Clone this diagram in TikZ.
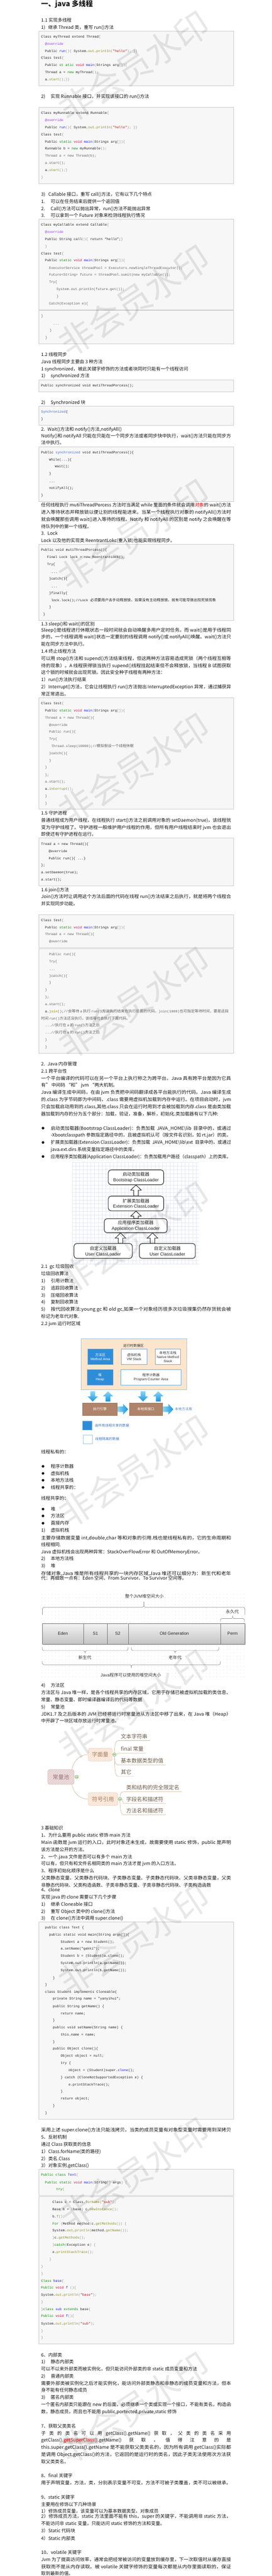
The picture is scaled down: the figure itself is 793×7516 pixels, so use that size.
\documentclass[tikz,border=0pt]{standalone}
\usepackage{fontspec}
\usepackage{graphicx}
\setmainfont{Noto Sans CJK SC}
\setmonofont{Liberation Mono}
\newfontfamily\lsans{Liberation Sans}
\usetikzlibrary{calc,patterns.meta}
\setlength{\fboxsep}{0.8pt}
\definecolor{codebg}{RGB}{247,247,247}
\definecolor{codeborder}{RGB}{204,204,204}
\definecolor{codeblack}{RGB}{34,34,34}
\definecolor{kpur}{RGB}{155,45,245}
\definecolor{kblu}{RGB}{25,25,230}
\definecolor{kgrn}{RGB}{0,140,0}
\definecolor{kred}{RGB}{205,0,55}
\definecolor{kol}{RGB}{140,140,20}
\definecolor{kstr}{RGB}{175,20,20}
\definecolor{kgray}{RGB}{95,95,95}
\definecolor{kbr}{RGB}{140,140,140}
\definecolor{ksyn}{RGB}{55,110,205}
\definecolor{bodyc}{RGB}{20,20,20}
\definecolor{gridc}{RGB}{230,232,244}
\definecolor{clline}{RGB}{45,45,45}
\definecolor{peach}{RGB}{252,229,205}
\definecolor{rtborder}{RGB}{165,200,230}
\definecolor{jblue}{RGB}{46,141,216}
\definecolor{jblueb}{RGB}{100,165,225}
\definecolor{jwb}{RGB}{115,170,220}
\definecolor{jtext}{RGB}{45,45,45}
\definecolor{jbrown}{RGB}{176,132,106}
\definecolor{jbrownb}{RGB}{150,110,85}
\definecolor{arrl}{RGB}{140,215,248}
\definecolor{arrd}{RGB}{25,150,222}
\definecolor{libtxt}{RGB}{80,130,190}
\definecolor{legtxt}{RGB}{60,115,185}
\definecolor{dotc}{RGB}{200,200,200}
\definecolor{bracec}{RGB}{150,150,150}
\definecolor{mmlinec}{RGB}{212,184,152}
\definecolor{mmrootf}{RGB}{236,218,218}
\definecolor{mmrootd}{RGB}{200,160,160}
\definecolor{mmroott}{RGB}{150,118,118}
\definecolor{mmrooth}{RGB}{218,190,190}
\definecolor{mmsubf}{RGB}{252,236,224}
\definecolor{mmsubd}{RGB}{226,186,155}
\definecolor{mmsubt}{RGB}{165,125,95}
\definecolor{mmsubh}{RGB}{240,210,188}
\definecolor{mmleaft}{RGB}{105,88,72}
\definecolor{mmgreen}{RGB}{95,165,85}
\definecolor{mmgreenf}{RGB}{230,245,225}
\definecolor{hlgray}{RGB}{215,215,215}
\definecolor{cellt}{RGB}{243,243,243}
\definecolor{cellb}{RGB}{196,196,196}
\definecolor{celld}{RGB}{120,120,120}
\definecolor{shadowc}{RGB}{218,218,218}
\newcommand\Kp[1]{\textcolor{kpur}{#1}}
\newcommand\Kb[1]{\textcolor{kblu}{#1}}
\newcommand\Kg[1]{\textcolor{kgrn}{#1}}
\newcommand\Kr[1]{\textcolor{kred}{#1}}
\newcommand\Ko[1]{\textcolor{kol}{#1}}
\newcommand\Ks[1]{\textcolor{kstr}{#1}}
\newcommand\Kl[1]{\textcolor{kbr}{#1}}
\newcommand\Kd[1]{\textcolor{kgray}{#1}}
\newcommand\Ky[1]{\textcolor{ksyn}{#1}}
\newcommand\zc[1]{{\rmfamily\fontsize{10.8}{12}\selectfont #1}}
\newcounter{tn}
\newcommand\TXT[3]{\stepcounter{tn}\node[bt] (t\thetn) at (#1,#2) {#3};}
\newcommand\FUL[2]{\stepcounter{tn}\node[bt] (t\thetn) at (120,#1) {\resizebox{554pt}{\height}{#2}};}
\newcommand\FUB[2]{\stepcounter{tn}\node[bt] (t\thetn) at (148,#1) {\resizebox{526pt}{\height}{#2}};}
\newcommand\NUM[4]{\TXT{120}{#2}{\makebox[#3pt][l]{#1}#4}}
\newcommand\BUL[2]{\fill[bodyc] (125.5,#1) circle (3.8); \TXT{148}{#1}{#2}}
\newcommand\BULF[2]{\fill[bodyc] (125.5,#1) circle (3.8); \FUB{#1}{#2}}
\newcommand\COD[3]{\stepcounter{tn}\node[ct] (t\thetn) at (#1,#2) {#3};}
\newcommand\CBOX[2]{\path[codebox] (113,#1) rectangle (682,#2);}
\newcommand\hollowup[2]{\draw[harr] let \p1=(#1), \p2=(#2) in (\x2-6.5pt,\y1) -- (\x2-6.5pt,\y2-15pt) -- (\x2-15.5pt,\y2-15pt) -- (\x2,\y2) -- (\x2+15.5pt,\y2-15pt) -- (\x2+6.5pt,\y2-15pt) -- (\x2+6.5pt,\y1) -- cycle;}
\newcommand\bluedown[3]{\shade[bluearr] let \p1=(#2), \p2=(#3) in (#1-7pt,\y1) -- (#1+7pt,\y1) -- (#1+7pt,\y2+15pt) -- (#1+15pt,\y2+15pt) -- (#1,\y2) -- (#1-15pt,\y2+15pt) -- (#1-7pt,\y2+15pt) -- cycle;}
\newcommand\blueup[3]{\shade[bluearr] let \p1=(#2), \p2=(#3) in (#1-7pt,\y1) -- (#1+7pt,\y1) -- (#1+7pt,\y2-15pt) -- (#1+15pt,\y2-15pt) -- (#1,\y2) -- (#1-15pt,\y2-15pt) -- (#1-7pt,\y2-15pt) -- cycle;}
\newcommand\blueright[2]{\shade[bluearrh] let \p1=(#1), \p2=(#2) in (\x1,\y1+8pt) -- (\x2-15pt,\y1+8pt) -- (\x2-15pt,\y1+16pt) -- (\x2,\y1) -- (\x2-15pt,\y1-16pt) -- (\x2-15pt,\y1-8pt) -- (\x1,\y1-8pt) -- cycle;}
\newcommand\MINUS[1]{\draw[mmgreen, line width=0.9pt] ($(#1.west)+(2.2,0)$) -- ($(#1.east)+(-2.2,0)$);}
\tikzset{
  bt/.style={anchor=west, inner sep=0pt, font=\fontsize{13.4}{16}\selectfont, text height=11.8pt, text depth=1.6pt, text=bodyc},
  ct/.style={anchor=west, inner sep=0pt, font=\ttfamily\fontsize{10}{12}\selectfont, text height=6.2pt, text depth=0pt, text=codeblack},
  codebox/.style={fill=codebg, draw=codeborder, line width=1pt},
  clbox/.style={draw=clline, line width=1.6pt, rounded corners=8pt, fill=white, inner sep=0pt, align=center, font=\fontsize{13}{16}\selectfont, text={rgb,255:red,30;green,30;blue,30}},
  harr/.style={draw=clline, line width=1.5pt, fill=white, line join=miter},
  jbox/.style={inner sep=0pt, align=center, font=\fontsize{10}{12.3}\selectfont, text=jtext, line width=0.8pt},
  jtxt/.style={inner sep=0pt, font=\fontsize{10}{12}\selectfont, text=jtext},
  bluearr/.style={top color=arrl, bottom color=arrd},
  bluearrh/.style={left color=arrl, right color=arrd},
  hcell/.style={draw=celld, top color=cellt, bottom color=cellb, inner sep=0pt, minimum height=60.3pt, font=\lsans\fontsize{12.5}{14}\selectfont, text={rgb,255:red,40;green,40;blue,40}},
  hlab/.style={inner sep=0pt, font=\fontsize{12.5}{14}\selectfont, text={rgb,255:red,50;green,50;blue,50}},
  hbrace/.style={draw=bracec, line width=1.1pt, rounded corners=5pt},
  mmroot/.style={draw=mmrootd, fill=mmrootf, rounded corners=6pt, inner sep=0pt, font=\fontsize{16}{18}\selectfont, text=mmroott, postaction={pattern={Lines[angle=45,distance=5pt,line width=0.5pt]}, pattern color=mmrooth}},
  mmsub/.style={draw=mmsubd, fill=mmsubf, rounded corners=6pt, inner sep=0pt, font=\fontsize{16}{18}\selectfont, text=mmsubt, postaction={pattern={Lines[angle=45,distance=5pt,line width=0.5pt]}, pattern color=mmsubh}},
  mmleaf/.style={anchor=south west, inner xsep=7pt, inner ysep=0pt, text height=13.6pt, text depth=6.1pt, font=\fontsize{15.5}{18}\selectfont, text=mmleaft},
  mmconn/.style={draw=mmlinec, line width=1pt},
  mminus/.style={circle, draw=mmgreen, fill=mmgreenf, line width=0.9pt, minimum size=10pt, inner sep=0pt},
  wm/.style={rotate=33, inner sep=0pt, font=\fontsize{100}{100}\selectfont, text=black, text opacity=0.09}
}
\begin{document}
\begin{tikzpicture}[x=1pt,y=-1pt]
\useasboundingbox (0,0) rectangle (793,7516);
\fill[white] (0,0) rectangle (793,7516);
% ---------------- section 1
\node[anchor=west, inner sep=0pt, font=\fontsize{20.5}{24}\selectfont\bfseries, text height=18pt, text depth=2.5pt, text=bodyc] (title) at (120,11) {一、java 多线程};
\TXT{120}{59.5}{1.1 实现多线程}
\NUM{1)}{79.5}{20.6}{继承 Thread 类，重写 run()方法}
\CBOX{91}{250}
\COD{120}{107.3}{Class myThread extend Thread\Kl{\{}}
\COD{131}{128.6}{\Kp{@override}}
\COD{131}{149.5}{Public \Kb{run}\Kl{()\{} System.\Ko{out}.\Ko{printIn}\Kl{(}\Ks{"hello"}\Kl{);} \Kl{\}\}}}
\COD{120}{169.5}{Class test\Kl{\{}}
\COD{131}{190.4}{Public \Kg{st atic} \Kr{void} \Kb{main}\Kl{(}Strings arg\Kl{[])\{}}
\COD{131}{211.3}{Thread a = \Kg{new} myThread\Kl{();}}
\COD{131}{232.2}{a.\Ko{start}\Kl{();\}\}}}
\NUM{2)}{281}{27.7}{实现 Runnable 接口，并实现该接口的 run()方法}
\CBOX{313.4}{535.2}
\COD{120}{330.3}{Class myRunnable extend Runnable\Kl{\{}}
\COD{131}{351.5}{\Kp{@override}}
\COD{131}{371.6}{Public \Kb{run}\Kl{()\{} System.\Ko{out}.\Ko{printIn}\Kl{(}\Ks{"hello"}\Kl{);} \Kl{\}\}}}
\COD{120}{392.5}{Class test\Kl{\{}}
\COD{131}{413.4}{Public \Kg{static} \Kr{void} \Kb{main}\Kl{(}Strings arg\Kl{[])\{}}
\COD{131}{434.3}{Runnable b = \Kg{new} myRunnable\Kl{();}}
\COD{131}{455.2}{\Kd{Thread a = new Thread(b);}}
\COD{131}{475.7}{\Kd{a.start();}}
\COD{131}{496.6}{a.\Ko{start}\Kl{();\}}}
\COD{120}{518.3}{\Kl{\}}}
\NUM{3)}{566.5}{21}{Callable 接口，重写 call()方法，它有以下几个特点}
\NUM{1.}{587.4}{27.7}{可以在任务结束后提供一个返回值}
\NUM{2.}{608.7}{27.7}{Call()方法可以抛出异常，run()方法不能抛出异常}
\NUM{3.}{629}{27.7}{可以拿到一个 Future 对象来检测线程执行情况}
\CBOX{639.6}{903.3}
\CBOX{905.7}{1003.7}
\COD{120}{656.3}{Class myCallable extend Callable\Kl{\{}}
\COD{131}{677.1}{\Kp{@override}}
\COD{131}{698.4}{Public String call\Kl{()\{} return “hello”;\Kl{\}}}
\COD{131}{719.2}{\Kl{\}}}
\COD{120}{740.4}{Class test\Kl{\{}}
\COD{131}{760.4}{Public \Kg{static} \Kr{void} \Kb{main}\Kl{(}Strings arg\Kl{[])\{}}
\COD{143}{781.6}{\Kd{ExecutorService threadPool = Executors.newSingleThreadExecutor();}}
\COD{143}{802.4}{\Kd{Future<String> future = threadPool.sumit(new myCallable());}}
\COD{143}{823.3}{\Kd{Try\{}}
\COD{165}{844.5}{\Kd{System.out.printIn(future.get());}}
\COD{165}{864.9}{\Kd{\}}}
\COD{143}{885.3}{\Kd{Catch(Exception e)\{}}
\COD{120}{922.4}{\Kd{\}}}
\COD{155}{945.3}{\Kd{...}}
\COD{145}{964.9}{\Kd{\}}}
\COD{132}{985.3}{\Kd{\}}}
\TXT{120}{1034.3}{1.2 线程同步}
\TXT{120}{1055.5}{Java 线程同步主要由 3 种方法}
\TXT{120}{1076.3}{1 synchronized，被此关键字修饰的方法或者块同时只能有一个线程访问}
\NUM{1)}{1096.7}{27.7}{synchronized 方法}
\CBOX{1107.8}{1142.4}
\COD{120}{1124.5}{Public synchronized void mutiThreadPorcess();}
\NUM{2)}{1173.9}{27.7}{Synchronized 块}
\CBOX{1184.9}{1240.4}
\COD{120}{1201.2}{\Ky{Synchronized}\{}
\COD{120}{1222.4}{\}}
\NUM{2.}{1251.8}{18.6}{Wait()方法和 notify()方法,notifyAll()}
\FUL{1271.2}{Notify()和 notifyAll 只能在只能在一个同步方法或者同步快中执行，wait()方法只能在同步方}
\TXT{120}{1292}{法中执行。}
\CBOX{1303.5}{1463.1}
\COD{120}{1320.2}{Public \Ky{synchronized} void mutiThreadPorcess()\{}
\COD{143}{1341.4}{While(...)\{}
\COD{160}{1361.4}{Wait();}
\COD{143}{1382.7}{\}}
\COD{143}{1405.1}{...}
\COD{143}{1424.3}{notifyAll();}
\COD{120}{1445.5}{\}}
\FUL{1473.7}{任何线程执行 mutiThreadPorcess 方法时当满足 while 里面的条件就会调用\textcolor{red}{对象}的 wait()方法}
\FUL{1494.5}{进入等待状态并释放锁以便让别的线程能进来。当某一个线程执行对象的 notifyAll()方法时}
\FUL{1515.3}{就会唤醒那些调用 wait()进入等待的线程。Notify 和 notifyAll 的区别是 notify 之会唤醒在等}
\TXT{120}{1536.5}{待队列中的第一个线程。}
\NUM{3.}{1556.5}{18.6}{Lock}
\TXT{120}{1577.3}{Lock 以及他的实现类 ReentrantLokc(重入锁)也能实现线程同步。}
\CBOX{1588.4}{1810}
\COD{120}{1605.1}{Public void mutiThreadPorcess()\{}
\COD{137}{1625.9}{Final Lock lock = new ReentrantLock();}
\COD{137}{1646.3}{Try\{}
\COD{150}{1669.2}{...}
\COD{143}{1688.4}{\}catch()\{}
\COD{150}{1711.2}{...}
\COD{143}{1730.4}{\}finally\{}
\COD{149}{1751.2}{lock.lock();//Lock \zc{必须要用户去手动释放锁，如果没有主动释放锁，就有可能导致出现死锁现象}}
\COD{143}{1771.6}{\}}
\COD{126}{1792.9}{\}}
\TXT{120}{1820.6}{1.3 sleep()和 wait()的区别}
\FUL{1837.8}{Sleep()是线程进行休眠状态一段时间就会自动唤醒多用户定时任务。而 wait()是用于线程同}
\FUL{1858.6}{步的，一个线程调用 wait()状态一定要别的线程调用 notify()或 notifyAll()唤醒。wait()方法只}
\TXT{120}{1878.6}{能在同步方法中执行。}
\TXT{120}{1900.4}{1.4 终止线程方法}
\FUL{1921.2}{可以用 stop()方法和 supend()方法结束线程，但这两种方法容易造成死锁（两个线程互相等}
\FUL{1941.6}{待的现象）。A 线程获得锁当执行 supend()线程挂起结束但不会释放锁，当线程 B 试图获取}
\TXT{120}{1962.4}{这个锁的时候就会出现死锁。因此安全种子线程有两种方法：}
\TXT{120}{1983.3}{1）run()方法执行结束}
\FUL{2004.1}{2）Interrupt()方法，它会让线程执行 run()方法抛出 InterruptedException 异常，通过捕获异}
\TXT{120}{2024.5}{常正常退出。}
\CBOX{2035.5}{2361.2}
\COD{120}{2052.2}{Class test\Kl{\{}}
\COD{131}{2073.5}{Public \Kg{static} \Kr{void} \Kb{main}\Kl{(}Strings arg\Kl{[])\{}}
\COD{131}{2094.3}{\Kd{Thread a = new Thread()\{}}
\COD{143}{2115.5}{\Kd{@override}}
\COD{143}{2135.5}{\Kd{Public run()\{}}
\COD{143}{2156.7}{\Kd{Try\{}}
\COD{150}{2177.1}{\Kd{Thread.sleep(10000);//\zc{模拟假设一个线程休眠}}}
\COD{143}{2198.4}{\Kd{\}catch()\{}}
\COD{143}{2219.6}{\Kd{\}}}
\COD{131}{2239.6}{\Kd{\}}}
\COD{131}{2260.8}{\Kd{\};}}
\COD{131}{2281.2}{\Kd{a.start();}}
\COD{131}{2302.4}{a.\Ko{interrupt}\Kl{();}}
\COD{131}{2323.7}{\Kd{\}}}
\COD{131}{2343.7}{\Kd{\}}}
\TXT{120}{2372.2}{1.5 守护进程}
\FUL{2393.1}{普通线程成为用户线程，在线程执行 start()方法之前调用对象的 setDaemon(true)，该线程就}
\FUL{2413.9}{变为守护线程了。守护进程一般维护用户线程的作用，但所有用户线程结束时 jvm 也会退出}
\TXT{120}{2433.9}{即使还有守护进程在运行。}
\CBOX{2445.3}{2584.3}
\COD{120}{2462.4}{Tread a = new Thread()\{}
\COD{142}{2483.3}{@override}
\COD{142}{2504.5}{Public run()\{ ...\}}
\COD{120}{2524.9}{\};}
\COD{120}{2545.4}{a.setDaemon(true);}
\COD{120}{2566.2}{a.start();}
\TXT{120}{2595.6}{1.6 join()方法}
\FUL{2615.7}{Join()方法时让调用这个方法后面的代码在线程 run()方法结束之后执行，就是将两个线程合}
\TXT{120}{2636.2}{并实现同步功能。}
\CBOX{2668.7}{2765.1}
\CBOX{2767.5}{3073.3}
\COD{120}{2685.6}{Class test\Kl{\{}}
\COD{131}{2706.5}{Public \Kg{static} \Kr{void} \Kb{main}\Kl{(}Strings arg\Kl{[])\{}}
\COD{131}{2726.6}{\Kd{Thread a = new Thread()\{}}
\COD{143}{2747.4}{\Kd{@override}}
\COD{143}{2784.4}{\Kd{Public run()\{}}
\COD{143}{2805.7}{\Kd{Try\{}}
\COD{143}{2827.8}{\Kd{...}}
\COD{143}{2847.5}{\Kd{\}catch()\{}}
\COD{143}{2867.6}{\Kd{\}}}
\COD{131}{2888.5}{\Kd{\}}}
\COD{131}{2909.8}{\Kd{\};}}
\COD{131}{2930.3}{\Kd{a.start();}}
\COD{131}{2951.2}{\resizebox{536pt}{\height}{a.\Ko{join}\Kd{();//\zc{会等待 }a\zc{ 执行 }run()\zc{方法执行结束在执行后面的代码，}join(1000)\zc{也可指定等待时间，要是这段}}}}
\COD{120}{2972.0}{\Kd{\zc{时间 }run()\zc{方法还没执行，该线程也会执行下面代码。}}}
\COD{131}{2992.1}{\Kd{...//\zc{执行在 }a\zc{ 的 }run()\zc{方法之后}}}
\COD{131}{3013.0}{\Kd{...//\zc{执行在 }a\zc{ 的 }run()\zc{方法之后}}}
\COD{131}{3034.3}{\Kd{\}}}
\COD{131}{3055.2}{\Kd{\}}}
% ---------------- section 2
\NUM{2.}{3104.6}{18.6}{Java 内存管理}
\TXT{120}{3124.7}{2.1 跨平台性}
\FUL{3146.1}{一个平台编译的代码可以在另一个平台上执行称之为跨平台。Java 具有跨平台是因为它具}
\TXT{120}{3166.6}{有” 中间码 “和” jvm “两大机制。}
\FUL{3187.5}{Java 编译生成中间码，在由 jvm 负责把中间码翻译成各平台能执行的代码。Java 编译生成}
\FUL{3208.3}{的.class 为字节码即为中间码，.class 需要用虚拟机加载到内存中运行。在项目启动时，jvm}
\FUL{3229.2}{只会加载启动用到的.class,其他.class 只会在运行时用到才会被加载到内存.class 是由类加载}
\TXT{120}{3249.7}{器加载到内存的分为五个部分：加载，验证，准备，解析，初始化.类加载器有以下几种:}
\BULF{3291.5}{启动类加载器(Bootstrap ClassLoader)：负责加载 \ JAVA\_HOME\textbackslash lib \ 目录中的，或通过}
\FUB{3312.4}{-Xbootclasspath 参数指定路径中的，且被虚拟机认可（按文件名识别，如 rt.jar）的类。}
\BULF{3333.3}{扩展类加载器(Extension ClassLoader)：负责加载 \ JAVA\_HOME\textbackslash lib\textbackslash ext \ 目录中的，或通过}
\TXT{148}{3354.2}{java.ext.dirs 系统变量指定路径中的类库。}
\BULF{3374.3}{应用程序类加载器(Application ClassLoader)：负责加载用户路径（classpath）上的类库。}
% class loader diagram
\foreach \gx in {210,221,...,580} {\draw[gridc, line width=0.5pt] (\gx,3391) -- (\gx,3688);}
\foreach \gy in {3391,3402,...,3688} {\draw[gridc, line width=0.5pt] (210,\gy) -- (580,\gy);}
\node[clbox, minimum width=161.7pt, minimum height=43.4pt] (cl1) at (396.8,3435) {启动类加载器\\{\lsans Bootstrap ClassLoader}};
\node[clbox, minimum width=161.7pt, minimum height=42.7pt] (cl2) at (396.8,3511.35) {扩展类加载器\\{\lsans Extension ClassLoader}};
\node[clbox, minimum width=183.4pt, minimum height=41pt] (cl3) at (396,3576.2) {应用程序类加载器\\{\lsans Application ClassLoader}};
\node[clbox, minimum width=170pt, minimum height=43.7pt] (cl4) at (301,3649.85) {自定义加载器\\{\lsans User ClassLoader}};
\node[clbox, minimum width=163.3pt, minimum height=43.7pt] (cl5) at (488.35,3649.85) {自定义加载器\\{\lsans User ClassLoader}};
\hollowup{cl2.north}{cl1.south}
\hollowup{cl3.north}{cl2.south}
\hollowup{cl4.north}{$(cl3.south)+(-44.3,0)$}
\hollowup{cl5.north}{$(cl3.south)+(49,0)$}
\TXT{120}{3695.3}{2.1 \ gc 垃圾回收}
\TXT{120}{3716.6}{垃圾回收算法}
\NUM{1)}{3736.7}{28}{引用计数法}
\NUM{2)}{3758}{28}{追踪回收算法}
\NUM{3)}{3778.9}{28}{压缩回收算法}
\NUM{4)}{3799}{28}{复制回收算法}
\TXT{120}{3820.3}{5)}
\FUB{3820.3}{按代回收算法:young gc 和 old gc,如果一个对象经历很多次垃圾搜集仍然存货就会被}
\TXT{120}{3841.2}{标记为老年代对象.}
\TXT{120}{3862.5}{2.2 jvm 运行时区域}
% JVM runtime diagram
\node[draw=rtborder, line width=1.3pt, fill=peach, minimum width=308.6pt, minimum height=149.4pt, inner sep=0pt] (rt) at (391,3980.6) {};
\node[jtxt] (rtt) at (389.5,3925.6) {运行时数据区};
\node[jbox, fill=jblue, draw=jblueb, text=white, minimum width=74.9pt, minimum height=45pt] (ma) at (292.85,3958.9) {方法区\\{\lsans Method Area}};
\node[jbox, fill=white, draw=jwb, minimum width=74.4pt, minimum height=45pt] (vms) at (391.2,3958.9) {虚拟机栈\\{\lsans VM Stack}};
\node[jbox, fill=white, draw=jwb, minimum width=74.3pt, minimum height=45pt] (nms) at (489.85,3958.9) {本地方法栈\\{\lsans Native Method}\\{\lsans Stack}};
\node[jbox, fill=jblue, draw=jblueb, text=white, minimum width=75.3pt, minimum height=45pt] (hp) at (291.65,4018.4) {堆\\{\lsans Heap}};
\node[jbox, fill=white, draw=jwb, minimum width=176pt, minimum height=45pt] (pc) at (440.6,4018.4) {程序计数器\\{\lsans Program Counter Area}};
\node[jbox, fill=jbrown, draw=jbrownb, text=white, minimum width=100.6pt, minimum height=36.5pt] (ee) at (291.6,4111.75) {执行引擎};
\node[jbox, fill=jbrown, draw=jbrownb, text=white, minimum width=96.1pt, minimum height=36.5pt] (ni) at (425.35,4111.75) {本地库接口};
\node[jtxt, anchor=west, text=libtxt] (nl) at (510.5,4111.6) {本地方法库};
\bluedown{270.6pt}{$(rt.south)+(0,3.3)$}{$(ee.north)+(0,-4)$}
\blueup{315.1pt}{$(ee.north)+(0,-4)$}{$(rt.south)+(0,3.3)$}
\bluedown{417.3pt}{$(rt.south)+(0,3.3)$}{$(ni.north)+(0,-4)$}
\blueup{461.8pt}{$(ni.north)+(0,-4)$}{$(rt.south)+(0,3.3)$}
\blueright{$(ee.east)+(1,0)$}{$(ni.west)+(-3,0)$}
\blueright{$(ni.east)+(1,0)$}{$(nl.west)+(-4.7,0)$}
\node[draw=jblueb, fill=jblue, minimum width=26.3pt, minimum height=25pt, inner sep=0pt] (lg1) at (254.45,4159) {};
\node[jtxt, anchor=west, text=legtxt] (lg1t) at (276.7,4159) {由所有线程共享的数据};
\node[draw=rtborder, fill=white, line width=0.8pt, minimum width=26.7pt, minimum height=24.9pt, inner sep=0pt] (lg2) at (255.65,4199.15) {};
\node[jtxt, anchor=west, text=legtxt] (lg2t) at (277.7,4198.8) {线程隔离的数据};
\TXT{120}{4236.5}{线程私有的：}
\BUL{4278.3}{程序计数器}
\BUL{4298.8}{虚拟机栈}
\BUL{4318.9}{本地方法栈}
\BUL{4339.8}{线程共享的：}
\TXT{120}{4372}{线程共享的：}
\BUL{4403}{堆}
\BUL{4423}{方法区}
\BUL{4444.3}{直接内存}
\NUM{1)}{4465.2}{28}{虚拟机栈}
\FUL{4486.5}{主要存储数据变量 int,double,char 等和对象的引用.栈也是线程私有的，它的生命周期和}
\TXT{120}{4507}{线程相同.}
\TXT{120}{4527.9}{Java 虚拟机栈会出现两种异常：StackOverFlowError 和 OutOfMemoryError。}
\NUM{2)}{4548}{28}{本地方法栈}
\NUM{3)}{4568.9}{28}{堆}
\FUL{4590.2}{存储对象,Java 堆是所有线程共享的一块内存区域,Java 堆还可以细分为：新生代和老年}
\TXT{120}{4605}{代：再细致一点有：Eden 空间、From Survivor、To Survivor 空间等。}
% heap diagram
\foreach \i in {0,...,59} {\foreach \j in {0,...,24} {\fill[dotc] ({122+10*\i},{4652+10*\j}) circle (0.65);}}
\fill[shadowc] (126,4739.5) rectangle (716.7,4800);
\node[hcell, minimum width=119.9pt] (eden) at (183.35,4766.55) {Eden};
\node[hcell, minimum width=70.3pt] (s1) at (278.45,4766.55) {S1};
\node[hcell, minimum width=60.2pt] (s2) at (343.7,4766.55) {S2};
\node[hcell, minimum width=269.6pt] (old) at (508.6,4766.55) {Old Generation};
\node[hcell, minimum width=70.3pt] (perm) at (678.55,4766.55) {Perm};
\draw[hbrace] (124,4711.5) -- (124,4689.4) -- (419.8,4689.4) -- (419.8,4673.3);
\draw[hbrace] (419.8,4673.3) -- (419.8,4689.4) -- (714.5,4689.4) -- (714.5,4711.5);
\draw[hbrace, rounded corners=4pt] (643.4,4731.6) -- (643.4,4722.4) -- (678.8,4722.4) -- (678.8,4714.3);
\draw[hbrace, rounded corners=4pt] (678.8,4714.3) -- (678.8,4722.4) -- (713,4722.4) -- (713,4731.6);
\draw[hbrace] (123.4,4805.9) -- (123.4,4816) -- (248.4,4816) -- (248.4,4824);
\draw[hbrace] (248.4,4824) -- (248.4,4816) -- (373.8,4816) -- (373.8,4805.9);
\draw[hbrace] (383.4,4805.9) -- (383.4,4816) -- (510.9,4816) -- (510.9,4824);
\draw[hbrace] (510.9,4824) -- (510.9,4816) -- (638.8,4816) -- (638.8,4805.9);
\draw[hbrace] (123.4,4846.9) -- (123.4,4857) -- (383.4,4857) -- (383.4,4866.2);
\draw[hbrace] (383.4,4866.2) -- (383.4,4857) -- (643.4,4857) -- (643.4,4846.9);
\node[hlab] (hl1) at (421.3,4657.3) {整个{\lsans JVM}堆空间大小};
\node[hlab] (hl2) at (677.8,4702.3) {永久代};
\node[hlab] (hl3) at (247.8,4836.9) {新生代};
\node[hlab] (hl4) at (510.9,4836.9) {老年代};
\node[hlab] (hl5) at (381.9,4887.1) {{\lsans Java}程序可以使用的堆空间大小};
\NUM{4)}{4917.2}{28}{方法区}
\FUL{4938.5}{方法区与 Java 堆一样，是各个线程共享的内存区域，它用于存储已被虚拟机加载的类信息、}
\TXT{120}{4959.4}{常量、静态变量、即时编译器编译后的代码等数据}
\NUM{5)}{4979.9}{28}{常量池}
\FUL{5001.2}{JDK1.7 及之后版本的 JVM 已经将运行时常量池从方法区中移了出来，在 Java 堆（Heap）}
\TXT{120}{5021.3}{中开辟了一块区域存放运行时常量池。}
% mind map
\node[mmroot, minimum width=77pt, minimum height=43.4pt] (cp) at (178,5184.5) {常量池};
\node[mmsub, minimum width=70.8pt, minimum height=37.7pt] (zm) at (292.4,5119.4) {字面量};
\node[mmsub, minimum width=87pt, minimum height=37.7pt] (fh) at (300.5,5249.1) {符号引用};
\node[mminus] (m0) at (223.6,5184.5) {};
\node[mminus] (m1) at (333.8,5119.4) {};
\node[mminus] (m2) at (350,5249.1) {};
\MINUS{m0}\MINUS{m1}\MINUS{m2}
\node[mmleaf] (l1) at (345.5,5078.4) {文本字符串};
\node[mmleaf] (l2) at (345.5,5115.4) {final 常量};
\node[mmleaf] (l3) at (345.5,5149.5) {基本数据类型的值};
\node[mmleaf] (l4) at (345.5,5182.8) {其它};
\node[mmleaf] (l5) at (361.2,5227.8) {类和结构的完全限定名};
\node[mmleaf] (l6) at (361.2,5261.6) {字段名和描述符};
\node[mmleaf] (l7) at (361.2,5295.3) {方法名和描述符};
\draw[mmconn] ($(cp.north east)+(-7,0)$) .. controls +(6,-28) and +(-22,0) .. (zm.west);
\draw[mmconn] ($(cp.south east)+(-7,0)$) .. controls +(6,28) and +(-22,0) .. (fh.west);
\draw[mmconn] (m1.north) .. controls +(1,-25) and +(-8,0) .. (l1.south west) -- (l1.south east);
\draw[mmconn] (m1.east) .. controls +(4,0) and +(-4,0) .. (l2.south west) -- (l2.south east);
\draw[mmconn] (m1.south) .. controls +(1,20) and +(-8,0) .. (l3.south west) -- (l3.south east);
\draw[mmconn] (m1.south) .. controls +(1,50) and +(-8,0) .. (l4.south west) -- (l4.south east);
\draw[mmconn] (m2.north) .. controls +(1,-15) and +(-6,0) .. (l5.south west) -- (l5.south east);
\draw[mmconn] (m2.east) .. controls +(4,0) and +(-4,0) .. (l6.south west) -- (l6.south east);
\draw[mmconn] (m2.south) .. controls +(1,35) and +(-6,0) .. (l7.south west) -- (l7.south east);
% ---------------- section 3
\TXT{120}{5332.7}{3 基础知识}
\TXT{120}{5354.4}{1、为什么要用 public static 修饰 main 方法}
\FUL{5375.7}{Main 函数是 jvm 运行的入口，此时对象还未生成，故需要使用 static 修饰，public 是声明}
\TXT{120}{5396.6}{该方法是公开的方法。}
\TXT{120}{5417.1}{2、一个.java 文件是否可以有多个 main 方法}
\TXT{120}{5437.2}{可以有，但只有和文件名相同类的 main 方法才是 jvm 的入口方法。}
\TXT{120}{5458.1}{3、程序初始化顺序是什么}
\FUL{5478.9}{父类静态变量、父类静态代码块、子类静态变量、子类静态代码块、父类非静态变量，父类}
\TXT{120}{5500.2}{非静态代码块、父类构造函数、子类非静态变量、子类非静态代码块、子类构造函数}
\TXT{120}{5513.5}{4、clone}
\TXT{120}{5534.8}{实现 java 的 clone 需要以下几个步骤}
\NUM{1)}{5555.3}{28}{继承 Cloneable 接口}
\NUM{2)}{5576.6}{28}{重写 Object 类中的 clone()方法}
\NUM{3)}{5596.7}{28}{在 clone()方法中调用 super.clone()}
\CBOX{5607.5}{6183.3}
\COD{131}{5624.5}{public class Text \{}
\COD{143}{5645.4}{public static void main(String args[])\{}
\COD{177}{5666.2}{Student a = new Student();}
\COD{177}{5686.3}{a.setName("gakki");}
\COD{177}{5707.2}{Student b = (Student)a.clone();}
\COD{177}{5728.5}{System.out.println(a.getName());}
\COD{177}{5749.4}{System.out.println(b.getName());}
\COD{154}{5770.7}{\}}
\COD{131}{5790.8}{\}}
\COD{131}{5811.3}{class Student implements Cloneable\{}
\COD{154}{5832.2}{private String name = "yanyihui";}
\COD{154}{5853.5}{public String getName() \{}
\COD{177}{5874.4}{return name;}
\COD{154}{5894.5}{\}}
\COD{154}{5915.3}{public void setName(String name) \{}
\COD{177}{5936.2}{this.name = name;}
\COD{154}{5957.1}{\}}
\COD{154}{5978}{public Object clone()\{}
\COD{177}{5998.1}{Object object = null;}
\COD{177}{6019.4}{try \{}
\COD{200}{6040.3}{object = (Student)super.\Kb{clone}();}
\COD{177}{6061.2}{\} catch (CloneNotSupportedException e) \{}
\COD{200}{6082.5}{e.printStackTrace();}
\COD{177}{6102.6}{\}}
\COD{177}{6123.5}{return object;}
\COD{154}{6144.4}{\}}
\COD{131}{6165.2}{\}}
\FUL{6213.9}{采用上述 super.clone()方法只能浅拷贝，当类的成员变量有对象型变量时需要用到深拷贝}
\TXT{120}{6236.1}{5、反射机制}
\TXT{120}{6256.5}{通过 Class 获取类的信息}
\TXT{120}{6277.3}{1）Class.forName(类的路径)}
\TXT{120}{6297.8}{2）类名.Class}
\TXT{120}{6318.2}{3）对象实例.getClass()}
\CBOX{6329.6}{6406.3}
\CBOX{6408.4}{6838.2}
\COD{120}{6346.3}{\Kg{Public} \Kg{class} \Kb{Text}\Kl{\{}}
\COD{131}{6367.6}{\Kg{Public} \Kg{static} \Kr{void} \Kb{main}\Kl{(}String\Kl{[]} args\Kl{)} \Kl{\{}}
\COD{164}{6387.1}{\Kg{try}\Kl{\{}}
\COD{153}{6425.5}{Class c = Class.\Ko{forName}\Kl{(}\Ks{"sub"}\Kl{);}}
\COD{153}{6446.3}{Base b = \Kl{(}base\Kl{)} c.\Ko{newInstance}\Kl{();}}
\COD{153}{6467.1}{b.\Ko{f}\Kl{();}}
\COD{153}{6488.4}{\Kg{For} \Kl{(}Method method:c.\Ko{getMethods}\Kl{())} \Kl{\{}}
\COD{153}{6508.4}{System.\Ko{out}.\Ko{println}\Kl{(}method.\Ko{getName}\Kl{());}}
\COD{153}{6529.6}{\Kl{\}}c.\Ko{getMethods}\Kl{();}}
\COD{153}{6550.4}{\Kl{\}}\Kg{catch}\Kl{(}Exception e\Kl{)} \Kl{\{}}
\COD{153}{6571.2}{e.\Ko{printStackTrace}\Kl{();}}
\COD{144}{6592.4}{\Kl{\}}}
\COD{120}{6612.9}{\Kl{\}}}
\COD{120}{6633.7}{\Kl{\}}}
\COD{120}{6654.5}{\Kg{Class} \Kb{base}\Kl{\{}}
\COD{120}{6675.3}{\Kg{Public} \Kr{void} \Kb{f} \Kl{()\{}}
\COD{120}{6696.1}{System.\Ko{out}.\Ko{println}\Kl{(}\Ks{"base"}\Kl{);}}
\COD{120}{6716.5}{\Kl{\}}}
\COD{120}{6737.3}{\Kl{\}}\Kg{class} \Kb{sub} \Kg{extends} base\Kl{\{}}
\COD{120}{6758.2}{\Kg{Public} \Kr{void} \Kb{f}\Kl{()\{}}
\COD{120}{6779.4}{System.\Ko{out}.\Ko{println}\Kl{(}\Ks{"sub"}\Kl{);}}
\COD{120}{6800.6}{\Kl{\}}}
\COD{120}{6820.6}{\Kl{\}}}
\TXT{120}{6870.5}{6、内部类}
\NUM{1)}{6891.4}{28}{静态内部类}
\TXT{120}{6911.5}{可以不以来外部类而被实例化，但只能访问外部类的非 static 成员变量和方法}
\NUM{2)}{6932.4}{28}{普通内部类}
\FUL{6953.3}{需要外部类被实例化之后才能实例化，能访问外部类静态和非静态的成员变量和方法，但本}
\TXT{120}{6973.8}{身不能有任何静态成员}
\NUM{3)}{6995.1}{28}{匿名内部类}
\FUL{7015.6}{一个匿名内部类只能跟在 new 的后面，必须继承一个类或实现一个接口，不能有类名，构造函}
\TXT{120}{7036.6}{数，静态成员，而且也不能用 public,portected,private,static 修饰}
\TXT{120}{7078}{7、获取父类类名}
\TXT{120}{7099.7}{\makebox[554pt][s]{子 类 的 类 名 可 以 用 getClass().getName() 获 取 ， 父 类 的 类 名 采 用}}
\TXT{120}{7119.8}{\makebox[554pt][s]{getClass().\colorbox{hlgray}{\textcolor{red}{getSuperClass()}}.getName() 获 取 ， 值 得 注 意 的 是}}
\FUL{7140.8}{this.super.getClass().getName 是不能获取父类类名的，因为所有调用 getClass()实际都}
\FUL{7161.3}{是调用 Object.getClass()的方法，它返回的是运行时的类名，因此子类无法使用次方法获}
\TXT{120}{7182.2}{取父类类名。}
\TXT{120}{7223.2}{8、final 关键字}
\FUL{7244.1}{用于声明变量，方法，类，分别表示变量不可变，方法不可被子类覆盖，类不可以被继承。}
\TXT{120}{7286}{9、static 关键字}
\TXT{120}{7306.9}{主要用在修饰以下几种场景}
\TXT{120}{7326.5}{1）修饰成员变量，该变量可以为基本数据类型，对象成员}
\FUL{7342.4}{2）修饰成员方法，static 方法里面不能有 this，super 的关键字，不能调用非 static 方法，}
\TXT{120}{7363.3}{不能访问非 static 变量，只能访问 static 修饰的方法和变量。}
\TXT{120}{7384.3}{3）Static 代码块}
\TXT{120}{7405.6}{4）Static 内部类}
\TXT{120}{7446.6}{10、volatile 关键字}
\FUL{7467.5}{Jvm 为了提高访问效率，通常会把经常被访问的变量放到缓存里，下一次取值时从缓存直接}
\FUL{7488.5}{获取而不是从内存读取。被 volatile 关键字修饰的变量每次都是从内存里面读取的，保证}
\TXT{120}{7508.5}{取到最新的值。}
% watermark
\foreach \k in {0,...,10} {\node[wm] (wm\k) at (391,{195+683*\k}) {非会员水印};}
\end{tikzpicture}
\end{document}
